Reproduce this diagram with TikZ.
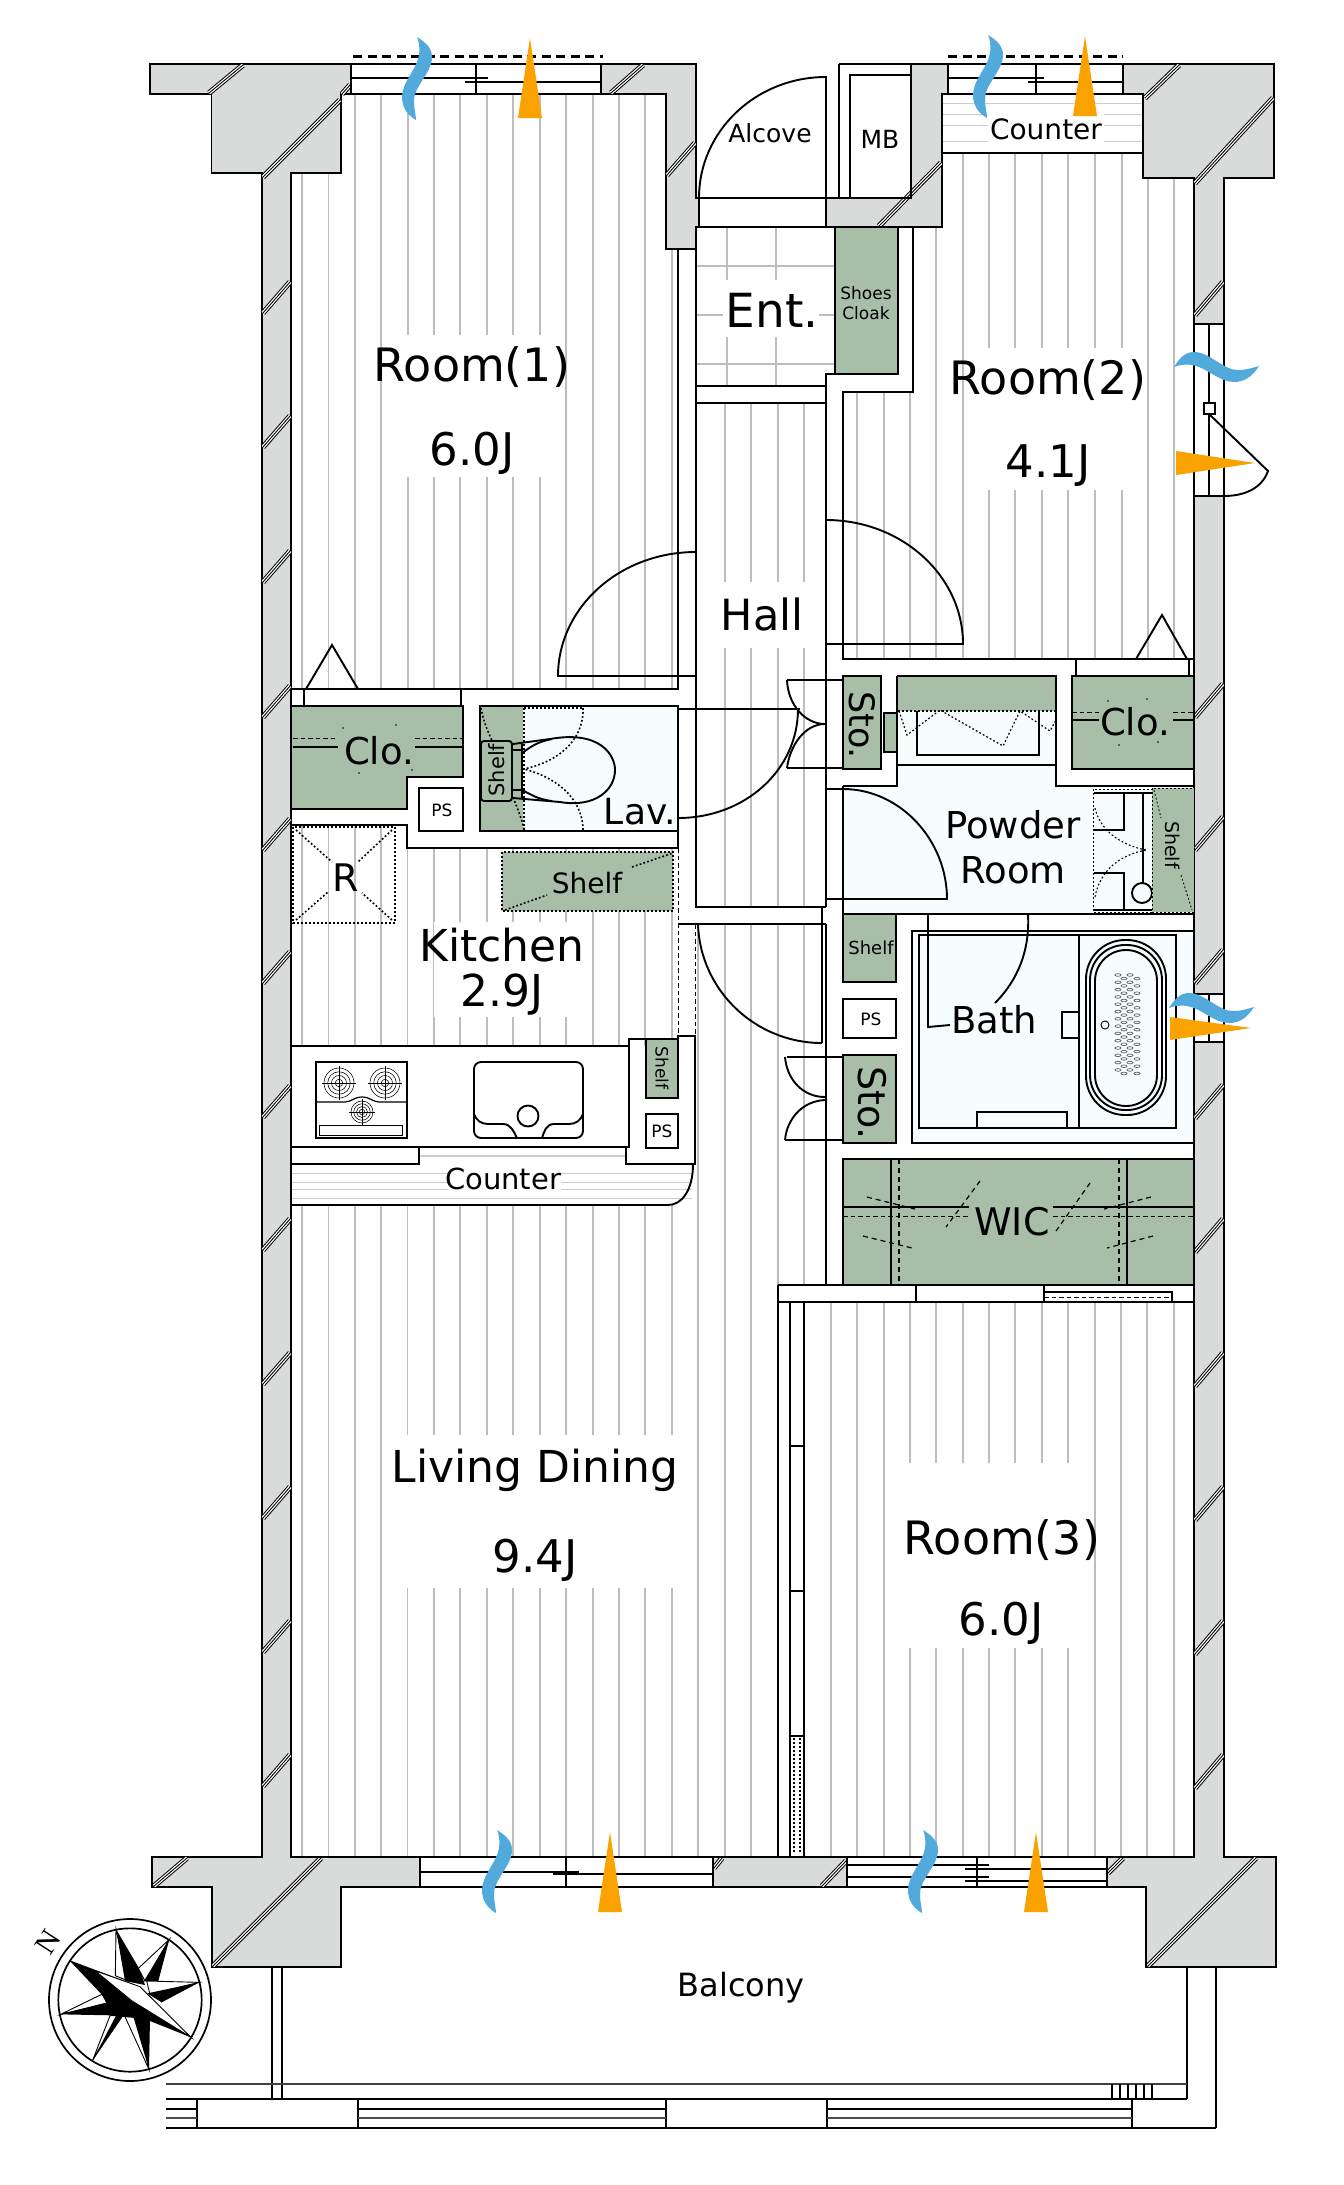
\documentclass[tikz,border=0pt]{standalone}
\usepackage{fontspec}
\setmainfont{DejaVu Sans}
\newfontfamily\nfont{Liberation Serif}
\definecolor{wallc}{HTML}{D9DBDA}
\definecolor{greenc}{HTML}{A9BEA9}
\definecolor{palec}{HTML}{F7FDFF}
\definecolor{bluec}{HTML}{52A9DC}
\definecolor{orangec}{HTML}{F9A200}
\definecolor{floorc}{HTML}{BDBDBD}
\newcommand{\fsz}[1]{\fontsize{#1pt}{#1pt}\selectfont}
\newcommand{\hatchmark}[2]{%
  \draw[line width=5.4pt,black] #1 -- #2;
  \draw[line width=3.4pt,white] #1 -- #2;
  \draw[line width=.9pt,black] #1 -- #2;}
\newcommand{\wavev}[2]{\fill[bluec,shift={(#1,#2)}] (0,0) .. controls (10,6) and (15,12) .. (15,20) .. controls (15,36) and (-4,50) .. (-3,65) .. controls (-3,72) and (-1,78) .. (-1,83) .. controls (-10,78) and (-15,70) .. (-15,60) .. controls (-15,45) and (0,32) .. (2,18) .. controls (3,10) and (2,5) .. (0,0) -- cycle;}
\newcommand{\waveh}[2]{\fill[bluec,shift={(#1,#2)}] (0,0) .. controls (6,-10) and (12,-15) .. (20,-15) .. controls (36,-15) and (50,4) .. (65,3) .. controls (72,3) and (78,1) .. (85,-1) .. controls (78,10) and (70,15) .. (60,15) .. controls (45,15) and (32,0) .. (18,-2) .. controls (10,-3) and (5,-2) .. (0,0) -- cycle;}
\newcommand{\burner}[3]{%
  \foreach \f in {1,.75,.5,.25} \draw[line width=.55pt] (#1,#2) circle ({#3*\f});
  \draw[line width=.55pt] (#1-#3-2,#2) -- (#1+#3+2,#2) (#1,#2-#3-2) -- (#1,#2+#3+2);}
\tikzset{
  ln/.style={line width=1.9pt,black,line join=miter},
  thinln/.style={line width=1.2pt,black},
  wall/.style={fill=wallc,draw=black,line width=1.9pt},
  green/.style={fill=greenc,draw=black,line width=1.9pt},
  box/.style={fill=white,draw=black,line width=1.9pt},
  floorl/.style={line width=1.1pt,floorc},
  counterl/.style={line width=1pt,black!20},
  dots/.style={line width=1.6pt,black,dash pattern=on 1.8pt off 2.2pt},
  topdash/.style={line width=3pt,black,dash pattern=on 9pt off 5.5pt},
  dashes/.style={line width=1.6pt,black,dash pattern=on 5pt off 4pt},
  thindash/.style={line width=.9pt,black,dash pattern=on 4.5pt off 3pt},
  lab/.style={text=black,inner sep=0pt,align=center},
  star/.style={fill=white,draw=black,line width=.9pt,line join=miter},
}
\begin{document}
\begin{tikzpicture}[x=1pt,y=-1pt]
\useasboundingbox (0,0) rectangle (1344,2185);
\fill[white] (0,0) rectangle (1344,2185);
% pale wet rooms
\fill[palec] (843,786) -- (897,786) -- (897,711) -- (1056,711) -- (1056,786) -- (1194,786) -- (1194,914) -- (843,914) -- cycle;
\fill[palec] (912,931) rectangle (1194,1143);
\fill[palec] (480,706) rectangle (678,831);
% floor lines
\foreach \x in {302,328.5} \draw[floorl] (\x,173) -- (\x,689);
\foreach \x in {355,381,408,434,460,487,513,540,566,593,619,645} \draw[floorl] (\x,94) -- (\x,689);
\draw[floorl] (672,249) -- (672,689);
\fill[white] (381.6,335) rectangle (565.4,477);
\foreach \x in {963,989,1015,1042,1068,1095,1122,1148,1174} \draw[floorl] (\x,153) -- (\x,659);
\draw[floorl] (936,227) -- (936,659);
\foreach \x in {857,884,910} \draw[floorl] (\x,392) -- (\x,659);
\fill[white] (963.6,348) rectangle (1147.4,490);
\foreach \x in {725,751,778,804} \draw[floorl] (\x,403) -- (\x,907);
\fill[white] (716,582) rectangle (812,648);
\foreach \x in {302,328.5,355,381} \draw[floorl] (\x,825) -- (\x,1046);
\foreach \x in {407.5,434,460,487,513,540,566,593,619,645,672} \draw[floorl] (\x,848) -- (\x,1046);
\fill[white] (433.5,922) rectangle (567,1017);
\foreach \x in {302,328.5,355,381,407.5,434,460,487,513,540,566,593,619,645,672} \draw[floorl] (\x,1205) -- (\x,1857);
\draw[floorl] (698,924) -- (698,1857);
\foreach \x in {725,751} \draw[floorl] (\x,924) -- (\x,1857);
\foreach \x in {778,804} \draw[floorl] (\x,924) -- (\x,1285);
\fill[white] (393,1435) rectangle (676,1588);
\foreach \x in {831,857,884,910,936,963,989,1015,1042,1068,1095,1121,1147,1174} \draw[floorl] (\x,1302) -- (\x,1857);
\fill[white] (908,1463) rectangle (1094,1648);
% entrance tiles
\foreach \x in {727,776} \draw[floorl] (\x,227) -- (\x,386);
\foreach \y in {266,315,364} \draw[floorl] (696,\y) -- (835,\y);
\fill[white] (723,280) rectangle (819,337);
% walls
\path[wall] (150,64) -- (351,64) -- (351,94) -- (341,94) -- (341,173) -- (291,173) -- (291,1857) -- (420,1857) -- (420,1887) -- (341,1887) -- (341,1967) -- (212,1967) -- (212,1887) -- (152,1887) -- (152,1857) -- (262,1857) -- (262,173) -- (211.5,173) -- (211.5,94) -- (150,94) -- cycle;
\path[wall] (601,64) -- (696,64) -- (696,198) -- (699,198) -- (699,227) -- (696,227) -- (696,249) -- (666,249) -- (666,94) -- (601,94) -- cycle;
\path[wall] (911,64) -- (948,64) -- (948,94) -- (942,94) -- (942,227) -- (826,227) -- (826,198) -- (911,198) -- cycle;
\path[wall] (1123,64) -- (1274,64) -- (1274,178) -- (1224,178) -- (1224,1857) -- (1276,1857) -- (1276,1967) -- (1146,1967) -- (1146,1887) -- (1107,1887) -- (1107,1857) -- (1194,1857) -- (1194,178) -- (1143,178) -- (1143,94) -- (1123,94) -- cycle;
\path[wall] (713,1857) rectangle (847,1887);
% hatch marks
\hatchmark{(209,93)}{(243,65)}
\hatchmark{(263,177)}{(340,100)}
\hatchmark{(342,94)}{(350,85)}
\hatchmark{(611,93)}{(643,65)}
\hatchmark{(667,175)}{(695,143)}
\hatchmark{(879,226)}{(941,163)}
\hatchmark{(1145,98)}{(1179,65)}
\hatchmark{(1195,183)}{(1273,98)}
\foreach \y in {313,447,582,717,850,983,1117,1250,1384,1518,1652,1786} {\hatchmark{(263,\y)}{(290,\y-31)}}
\foreach \y in {315,717,850,983,1118,1252,1386,1520,1654,1788} {\hatchmark{(1195,\y)}{(1223,\y-33)}}
\hatchmark{(154,1886)}{(187,1858)}
\hatchmark{(213,1966)}{(321,1858)}
\hatchmark{(714,1868)}{(722,1858)}
\hatchmark{(822,1886)}{(846,1861)}
\hatchmark{(1108,1873)}{(1123,1858)}
\hatchmark{(1148,1966)}{(1256,1858)}
% top windows
\draw[ln] (351,64) rectangle (601,94) (476,64) -- (476,94);
\draw[thinln] (351,78) -- (488,78) (465,82) -- (601,82);
\draw[topdash] (353,56) -- (603,56);
\draw[ln] (948,64) -- (1123,64) (948,64) -- (948,94) (1123,64) -- (1123,94) (1036,64) -- (1036,94);
\draw[thinln] (948,78) -- (1044,78) (1028,82) -- (1123,82);
\draw[topdash] (948,56) -- (1123,56);
% top counter
\draw[ln] (942,94) rectangle (1143,153);
\foreach \y in {103,114,125,141} \draw[counterl] (943,\y) -- (1142,\y);
\fill[white] (988,112) rectangle (1104,142);
% alcove and MB
\draw[ln] (696,198) -- (911,198) (839,64) -- (911,64) (839,64) -- (839,198);
\draw[ln] (850,198) -- (850,75) -- (911,75) -- (911,198);
\draw[ln] (826,198) -- (826,77) .. controls (756,77) and (699,131) .. (699,198);
\draw[ln] (696,227) -- (942,227);
% entrance, hall
\draw[ln] (696,227) -- (696,907) -- (826,907);
\draw[ln] (696,386) -- (826,386) (696,403) -- (826,403);
\path[green] (835,227) rectangle (898,374);
\draw[ln] (913,227) -- (913,392) -- (843,392) -- (843,659) -- (1194,659);
\draw[ln] (835,374) -- (826,374) -- (826,907);
% room 2 door
\draw[ln] (826,644) -- (963,644) .. controls (963,576) and (902,520) .. (826,520);
% room 1 lower, closet
\draw[ln] (678,249) -- (678,689) -- (291,689);
\draw[ln] (696,676) -- (558,676) .. controls (558,608) and (619,552) .. (696,552);
\draw[ln] (304,689) -- (304,706) (461,689) -- (461,706);
\draw[ln] (306,689) -- (332,645) -- (358,689);
\path[green] (291,706) -- (463,706) -- (463,777) -- (407,777) -- (407,809) -- (291,809) -- cycle;
\draw[thinln,line width=1.5pt] (293,747) -- (338,747) (415,747) -- (463,747);
\draw[thindash] (293,738) -- (338,738) (415,738) -- (463,738);
\foreach \p in {(343,728),(396,725),(359,773),(412,770)} \fill[black] \p circle (.9);
\draw[ln] (291,825) -- (407,825) -- (407,848) -- (678,848) -- (678,706);
\path[box] (419,788) rectangle (463,831);
% Lav
\fill[greenc] (480,706) rectangle (523,831);
\draw[ln] (480,706) rectangle (678,831);
\draw[dots] (524,708) -- (524,830) (524,708) -- (583,708);
\draw[dots] (583,708) .. controls (584,735) and (565,760) .. (524,769);
\draw[dots] (583,830) .. controls (583,805) and (565,780) .. (524,769);
\draw[dots] (481,708) .. controls (484,725) and (490,735) .. (492,741);
\draw[dots] (510,790) .. controls (516,805) and (522,818) .. (524,830);
\draw[ln] (513,744) -- (550,739) .. controls (600,730) and (615,755) .. (615,770) .. controls (615,790) and (595,808) .. (560,802) -- (513,798);
\draw[ln] (522,753) .. controls (532,746) and (537,742) .. (552,739);
\draw[ln] (522,790) .. controls (532,795) and (537,799) .. (552,801);
\draw[ln] (522,744) -- (522,798) (512,750) -- (522,750) (512,790) -- (522,790);
\path[green,rounded corners=3pt] (481,741) rectangle (512,801);
% Lav door
\draw[ln] (678,709) -- (798,709);
\draw[ln] (678,818) .. controls (745,818) and (798,770) .. (798,709);
% kitchen shelf & refrigerator
\fill[greenc] (502,852) rectangle (673,911);
\draw[dots] (502,852) rectangle (673,911);
\draw[dots] (505,910) -- (547,895) (632,867) -- (673,853);
\draw[dots] (293,827) rectangle (395,923);
\draw[dots] (296,830) -- (332,862) (392,830) -- (358,862) (296,920) -- (328,892) (392,920) -- (362,893);
% dashed openings
\draw[thindash] (678,848) -- (678,1039) (695,924) -- (695,1036);
% kitchen counter
\draw[ln] (291,1046) -- (629,1046) -- (629,1039) -- (678,1039) -- (678,1036) -- (695,1036) -- (695,1164) -- (626,1164) -- (626,1147);
\draw[ln] (629,1039) -- (629,1147) -- (291,1147);
\draw[ln] (291,1164) -- (419,1164) -- (419,1147);
\foreach \y in {1173,1182,1189,1198} \draw[counterl] (292,\y) -- (692,\y);
\draw[counterl,line width=1.5pt] (420,1156) -- (625,1156);
\fill[white] (448,1164.6) rectangle (561,1192);
\draw[ln] (291,1205) -- (668,1205) .. controls (682,1205) and (693,1190) .. (693,1164);
% stove
\draw[ln] (316,1062) rectangle (407,1138);
\draw[thinln] (316,1102) -- (345,1102) .. controls (351,1102) and (354,1097) .. (362,1097) .. controls (370,1097) and (373,1102) .. (379,1102) -- (407,1102);
\draw[line width=.6pt] (319,1125) rectangle (402,1135);
\burner{339}{1083}{15}
\burner{385}{1083}{15}
\burner{362}{1112}{11}
% sink
\draw[ln,rounded corners=7pt] (474,1062) rectangle (583,1138);
\draw[ln] (528,1116) circle (10.5);
\draw[ln] (474,1114) .. controls (476,1120) and (481,1124) .. (488,1124) -- (503,1124) .. controls (511,1124) and (514,1132) .. (517,1138);
\draw[ln] (583,1114) .. controls (581,1120) and (576,1124) .. (569,1124) -- (554,1124) .. controls (546,1124) and (544,1132) .. (542,1138);
\path[green] (646,1039) rectangle (678,1098);
\path[box] (646,1114) rectangle (678,1148);
% right column
\draw[ln] (1076,659) -- (1076,675) (1189,659) -- (1189,675);
\draw[ln] (1136,659) -- (1162,615) -- (1187,659);
\path[green] (1072,676) rectangle (1194,769);
\draw[line width=1.5pt,black] (1072,720) -- (1099,720) (1173,720) -- (1194,720);
\draw[thindash] (1072,712) -- (1099,712) (1173,712) -- (1194,712);
\foreach \p in {(1108,701),(1147,699),(1119,745),(1158,742)} \fill[black] \p circle (.9);
\path[green] (843,676) rectangle (881,769);
% washer
\fill[greenc] (897,676) rectangle (1056,711);
\draw[ln] (897,676) -- (1056,676) -- (1056,786) -- (1194,786);
\draw[ln] (843,786) -- (897,786) -- (897,676);
\draw[ln] (897,765) -- (1056,765);
\draw[dots] (898,711) -- (1056,711);
\draw[ln] (917,711) -- (917,755) -- (1039,755) -- (1039,711);
\draw[dots,line width=1.2pt] (899,711) -- (907,735) -- (940,710) -- (1003,746) -- (1020,711) -- (1050,731) -- (1056,720);
\path[fill=greenc,draw=black,line width=1.5pt] (884,713) rectangle (897,752);
% upper Sto doors
\draw[ln] (787,680) -- (843,680) (787,768) -- (843,768) (678,709) -- (800,709);
\draw[ln] (787,680) .. controls (788,705) and (805,724) .. (825,724);
\draw[ln] (787,768) .. controls (790,745) and (805,724) .. (825,724);
% powder room
\draw[ln] (826,789) -- (843,789);
\draw[ln] (843,786) -- (843,914) -- (1194,914);
\draw[ln] (826,899) -- (947,899) .. controls (947,840) and (900,789) .. (843,789);
\draw[ln] (1094,793) -- (1124,793) -- (1124,830) -- (1094,830);
\draw[ln] (1094,873) -- (1124,873) -- (1124,910) -- (1094,910);
\draw[ln] (1143,793) -- (1143,883) (1110,910) -- (1152,910) (1110,793) -- (1152,793);
\draw[ln] (1142,893) circle (10);
\draw[dots,line width=.9pt] (1093,789) rectangle (1152,912);
\draw[dots,line width=1.1pt] (1095,808) .. controls (1100,830) and (1120,845) .. (1146,850);
\draw[dots,line width=1.1pt] (1095,897) .. controls (1100,870) and (1120,855) .. (1146,850);
\fill[greenc] (1152,788) rectangle (1194,912);
\draw[dots,line width=.9pt] (1152,788) rectangle (1194,912);
\draw[dots,line width=.9pt] (1154,790) -- (1161,818) (1181,875) -- (1192,910);
% shelf, PS, Sto
\path[green] (843,914) rectangle (896,982);
\path[box] (843,999) rectangle (896,1038);
\path[green] (843,1055) rectangle (896,1143);
\draw[ln] (787,1057) -- (843,1057) (785,1140) -- (843,1140);
\draw[ln] (785,1057) .. controls (787,1080) and (803,1097) .. (825,1097);
\draw[ln] (785,1140) .. controls (787,1118) and (803,1101) .. (825,1100);
% lower Hall door
\draw[ln] (678,924) -- (826,924) (826,924) -- (826,1285) -- (778,1285);
\draw[ln] (822,907) -- (822,1043);
\draw[ln] (698,924) .. controls (700,990) and (755,1043) .. (822,1043);
% bath
\draw[ln] (1194,931) -- (912,931) -- (912,1143) -- (1194,1143);
\draw[ln] (919,935) rectangle (1176,1128);
\draw[ln] (928,914) -- (928,1027) -- (950,1025);
\draw[ln] (1028,914) .. controls (1030,950) and (1018,980) .. (995,1003);
\draw[ln] (1079,935) -- (1079,1128);
\draw[ln] (1062,1012) rectangle (1079,1038);
\draw[ln] (977,1128) -- (977,1112) -- (1067,1112) -- (1067,1128);
\draw[ln,rounded corners=39pt] (1086,940) rectangle (1166,1115);
\draw[ln,rounded corners=35pt] (1090,945) rectangle (1162,1110);
\draw[ln,rounded corners=31pt] (1095,950) rectangle (1157,1106);
\draw[line width=.9pt] (1105,1025) circle (4);
\foreach \x/\o in {1118/0,1124/3.6,1130/0,1137/3.6} \foreach \r in {0,...,13} \draw[line width=.75pt,black!60] (\x,{975+\r*7.3+\o}) ellipse (3 and 1.3);
% WIC
\path[green] (843,1159) rectangle (1194,1285);
\draw[ln] (891,1159) -- (891,1285) (1127,1159) -- (1127,1285);
\draw[dashes,line width=1.3pt] (899,1159) -- (899,1285) (1119,1159) -- (1119,1285);
\draw[ln] (843,1207) -- (969,1207) (1053,1207) -- (1194,1207);
\draw[thindash] (843,1216) -- (968,1216) (1053,1216) -- (1194,1216);
\draw[dashes,line width=1.2pt] (867,1197) -- (915,1209) (863,1236) -- (912,1248) (980,1181) -- (946,1227) (1090,1183) -- (1056,1231) (1151,1197) -- (1104,1209) (1153,1236) -- (1107,1248);
% under WIC
\draw[ln] (826,1285) -- (843,1285) (916,1285) -- (916,1302) (1044,1285) -- (1044,1302);
\draw[ln] (778,1302) -- (1194,1302);
\draw[ln] (1044,1292) -- (1172,1292) -- (1172,1302);
\draw[thindash] (1044,1297) -- (1172,1297);
% sliding partition
\draw[ln] (778,1285) -- (778,1857) (804,1302) -- (804,1857);
\draw[line width=1.4pt,black] (790,1302) -- (790,1857);
\foreach \y in {1446,1591,1736} \draw[thinln] (790,\y) -- (804,\y);
\fill[white] (791,1737) rectangle (803,1855);
\foreach \x in {794,800} \draw[line width=1.4pt,dash pattern=on 1.5pt off 2.5pt] (\x,1738) -- (\x,1854);
% right window
\fill[white] (1194.9,324) rectangle (1223.1,496);
\draw[ln] (1194,324) -- (1224,324) (1194,496) -- (1224,496) (1194,324) -- (1194,496) (1224,324) -- (1224,496);
\draw[thinln] (1209,324) -- (1209,496);
\draw[ln] (1209,414) -- (1268,471) .. controls (1262,488) and (1245,496) .. (1224,496);
\path[box,line width=1.2pt] (1204,403) rectangle (1215,414);
% bath window
\fill[white] (1194.9,994) rectangle (1223.1,1042);
\draw[ln] (1194,994) -- (1224,994) (1194,1042) -- (1224,1042) (1224,994) -- (1224,1042);
\draw[thinln] (1209,994) -- (1209,1042);
% bottom wall windows
\draw[ln] (420,1857) rectangle (713,1887) (566,1857) -- (566,1887);
\draw[thinln] (420,1872) -- (579,1872) (553,1874) -- (713,1874);
\draw[ln] (847,1857) rectangle (1107,1887) (977,1857) -- (977,1887);
\draw[thinln] (847,1865) -- (989,1865) (847,1877) -- (989,1877) (965,1869) -- (1107,1869) (965,1881) -- (1107,1881);
\draw[ln] (291,1857) -- (1194,1857);
% balcony
\draw[ln] (272,1967) -- (272,2099) (282,1967) -- (282,2099);
\draw[ln] (1187,1967) -- (1187,2099) (1216,1967) -- (1216,2128);
\draw[line width=1.5pt,black!75] (166,2084) -- (1187,2084);
\draw[line width=2.2pt] (166,2099) -- (1187,2099);
\draw[line width=2.2pt] (166,2128) -- (1216,2128);
\foreach \x in {197,358,666,827,1132} \draw[ln] (\x,2099) -- (\x,2128);
\foreach \a/\b in {166/197,358/666,827/1132} {\draw[ln] (\a,2109) -- (\b,2109); \draw[ln,black!70] (\a,2118) -- (\b,2118);}
\foreach \x in {1112,1120,1128,1136,1144,1152} \draw[thinln] (\x,2084) -- (\x,2099);
% air / light markers
\wavev{417}{37}
\fill[orangec] (530,38) -- (542,118) -- (518,118) -- cycle;
\wavev{988}{35}
\fill[orangec] (1085,36) -- (1097,116) -- (1073,116) -- cycle;
\waveh{1174}{367}
\fill[orangec] (1176,451) -- (1255,463) -- (1176,475) -- cycle;
\waveh{1169}{1008}
\fill[orangec] (1170,1017) -- (1251,1028) -- (1170,1040) -- cycle;
\wavev{497}{1830}
\fill[orangec] (610,1832) -- (622,1912) -- (598,1912) -- cycle;
\wavev{923}{1830}
\fill[orangec] (1036,1832) -- (1048,1912) -- (1024,1912) -- cycle;
% compass (coordinates of a 3x enlargement)
\begin{scope}[shift={(30,1905)},x=.33333pt,y=-.33333pt]
\draw[line width=1.7pt] (300,285) circle (243) (300,285) circle (215);
\path[star] (258,72) -- (256,212) -- (295,228) -- cycle;
\fill[black] (258,72) -- (330,195) -- (345,240) -- (285,228) -- cycle;
\path[star] (418,103) -- (325,190) -- (345,228) -- cycle;
\fill[black] (418,103) -- (385,228) -- (342,228) -- cycle;
\path[star] (508,232) -- (350,228) -- (360,268) -- cycle;
\fill[black] (508,232) -- (395,292) -- (352,265) -- cycle;
\path[star] (357,493) -- (285,335) -- (325,335) -- cycle;
\fill[black] (357,493) -- (360,340) -- (310,335) -- cycle;
\path[star] (187,468) -- (240,332) -- (265,332) -- cycle;
\fill[black] (187,468) -- (280,332) -- (258,332) -- cycle;
\path[star] (92,328) -- (215,268) -- (242,292) -- cycle;
\fill[black] (92,328) -- (240,290) -- (300,332) -- cycle;
\fill[black] (117,165) -- (215,268) -- (250,332) -- (345,342) -- (483,397) -- (330,245) -- cycle;
\path[star] (195,197) -- (330,245) -- (483,397) -- (305,287) -- cycle;
\end{scope}
\node[lab,rotate=57] (north) at (48,1942) {\nfont\fsz{30}N};
% labels
\node[lab] (room1) at (472,367) {\fsz{46}Room(1)};
\node[lab] (room1a) at (472,453) {\fsz{45}6.0J};
\node[lab] (room2) at (1048,380) {\fsz{46}Room(2)};
\node[lab] (room2a) at (1048,466) {\fsz{45}4.1J};
\node[lab] (room3) at (1002,1540) {\fsz{46}Room(3)};
\node[lab] (room3a) at (1001,1623) {\fsz{45}6.0J};
\node[lab] (living) at (535,1470) {\fsz{44}Living Dining};
\node[lab] (livinga) at (535,1560) {\fsz{45}9.4J};
\node[lab] (hall) at (762,614) {\fsz{43}Hall};
\node[lab] (ent) at (772,310) {\fsz{47}Ent.};
\node[lab] (alcove) at (770,133) {\fsz{25}Alcove};
\node[lab] (mb) at (880,139) {\fsz{25}MB};
\node[lab] (counter1) at (1046,129) {\fsz{28}Counter};
\node[lab,inner sep=0pt] (shoes) at (866,293) {\fsz{17}Shoes};
\node[lab] (cloak) at (866,313) {\fsz{17}Cloak};
\node[lab] (clo1) at (379,751) {\fsz{37}Clo.};
\node[lab] (clo2) at (1135,722) {\fsz{37}Clo.};
\node[lab,rotate=90] (shelfa) at (497,770) {\fsz{21}Shelf};
\node[lab] (lav) at (640,812) {\fsz{36}Lav.};
\node[lab] (ps1) at (442,810) {\fsz{17}PS};
\node[lab] (shelfb) at (587,883) {\fsz{28}Shelf};
\node[lab] (r) at (346,878) {\fsz{38}R};
\node[lab] (kitchen) at (502,945) {\fsz{44}Kitchen};
\node[lab] (kitchena) at (502,995) {\fsz{44}2.9J};
\node[lab,rotate=-90] (shelfc) at (662,1068) {\fsz{17}Shelf};
\node[lab] (ps2) at (662,1131) {\fsz{17}PS};
\node[lab] (counter2) at (503,1179) {\fsz{29}Counter};
\node[lab,rotate=-90] (sto1) at (862,725) {\fsz{35}Sto.};
\node[lab,rotate=-90] (sto2) at (872,1103) {\fsz{38}Sto.};
\node[lab] (powder) at (1013,825) {\fsz{37}Powder};
\node[lab] (powder2) at (1013,870) {\fsz{37}Room};
\node[lab,rotate=-90] (shelfd) at (1173,845) {\fsz{19}Shelf};
\node[lab] (shelfe) at (871,948) {\fsz{18}Shelf};
\node[lab] (ps3) at (871,1019) {\fsz{17}PS};
\node[lab] (bath) at (994,1020) {\fsz{37}Bath};
\node[lab] (wic) at (1012,1222) {\fsz{38}WIC};
\node[lab] (balcony) at (741,1988) {\fsz{32}Balcony};
\end{tikzpicture}
\end{document}
